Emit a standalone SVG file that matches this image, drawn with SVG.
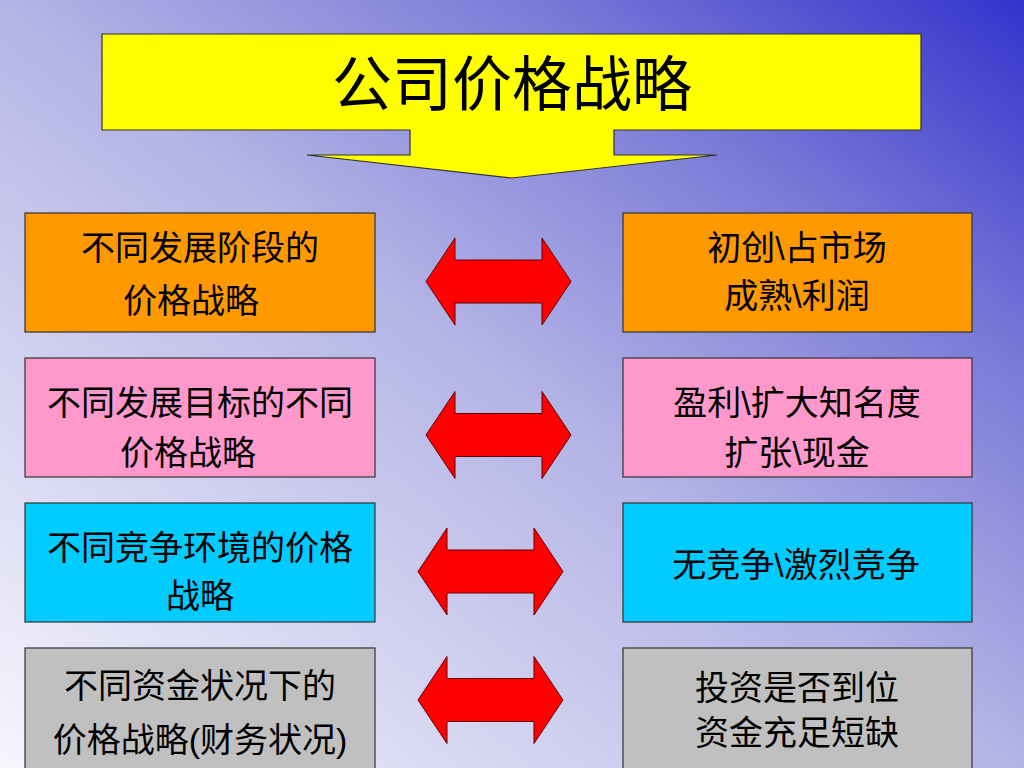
<svg xmlns="http://www.w3.org/2000/svg" xmlns:xlink="http://www.w3.org/1999/xlink" width="1024" height="768" viewBox="0 0 1024 768">
<defs>
<linearGradient id="bg" x1="0" y1="1" x2="1" y2="0">
<stop offset="0" stop-color="#F6F6FD"/>
<stop offset="0.5" stop-color="#B4B4E6"/>
<stop offset="0.75" stop-color="#7C7CD8"/>
<stop offset="1" stop-color="#3333CC"/>
</linearGradient>
<path id="dbl" d="M-72.5,0 L-43.5,-43.5 V-21.5 H43.5 V-43.5 L72.5,0 L43.5,43.5 V21.5 H-43.5 V43.5 Z"/>
</defs>
<style>
.box{stroke:#333333;stroke-width:1.2}
.t{font-family:"Liberation Sans","Noto Sans CJK SC",sans-serif;font-size:34px;fill:#000;text-anchor:middle}
.title{font-family:"Liberation Serif","Noto Sans CJK SC",serif;font-size:60px;fill:#000;text-anchor:middle}
.arr{fill:#FF0000;stroke:#660000;stroke-width:1}
.orange{fill:#FF9900}.pink{fill:#FF99CC}.cyan{fill:#00CCFF}.gray{fill:#C0C0C0}
</style>
<rect width="1024" height="768" fill="url(#bg)"/>
<g id="title">
<path d="M102,34 H921 V130 H614 V155 H717 L512,178 L307,155 H410 V130 H102 Z" fill="#FFFF00" stroke="#333333" stroke-width="1.2"/>
<text class="title" x="512" y="106">公司价格战略</text>
</g>
<g id="left1"><rect class="box orange" x="25" y="213" width="350" height="119"/>
<text class="t" x="200" y="260">不同发展阶段的</text><text class="t" x="191" y="313">价格战略</text></g>
<g id="left2"><rect class="box pink" x="25" y="358" width="350" height="119"/>
<text class="t" x="200" y="415">不同发展目标的不同</text><text class="t" x="188" y="465">价格战略</text></g>
<g id="left3"><rect class="box cyan" x="25" y="503" width="350" height="119"/>
<text class="t" x="200" y="560">不同竞争环境的价格</text><text class="t" x="200" y="608">战略</text></g>
<g id="left4"><rect class="box gray" x="25" y="648" width="350" height="122"/>
<text class="t" x="200" y="698">不同资金状况下的</text><text class="t" x="200" y="752">价格战略(财务状况)</text></g>
<g id="right1"><rect class="box orange" x="623" y="213" width="349" height="119"/>
<text class="t" x="797" y="260">初创\占市场</text><text class="t" x="797" y="308">成熟\利润</text></g>
<g id="right2"><rect class="box pink" x="623" y="358" width="349" height="119"/>
<text class="t" x="797" y="415">盈利\扩大知名度</text><text class="t" x="797" y="465">扩张\现金</text></g>
<g id="right3"><rect class="box cyan" x="623" y="503" width="349" height="119"/>
<text class="t" x="796" y="577">无竞争\激烈竞争</text></g>
<g id="right4"><rect class="box gray" x="623" y="648" width="349" height="122"/>
<text class="t" x="797" y="700">投资是否到位</text><text class="t" x="797" y="745">资金充足短缺</text></g>
<g id="connectors">
<use xlink:href="#dbl" class="arr" transform="translate(498.5,281.5)"/>
<use xlink:href="#dbl" class="arr" transform="translate(498.5,435)"/>
<use xlink:href="#dbl" class="arr" transform="translate(490.5,571.5)"/>
<use xlink:href="#dbl" class="arr" transform="translate(490.5,700)"/>
</g>
</svg>
